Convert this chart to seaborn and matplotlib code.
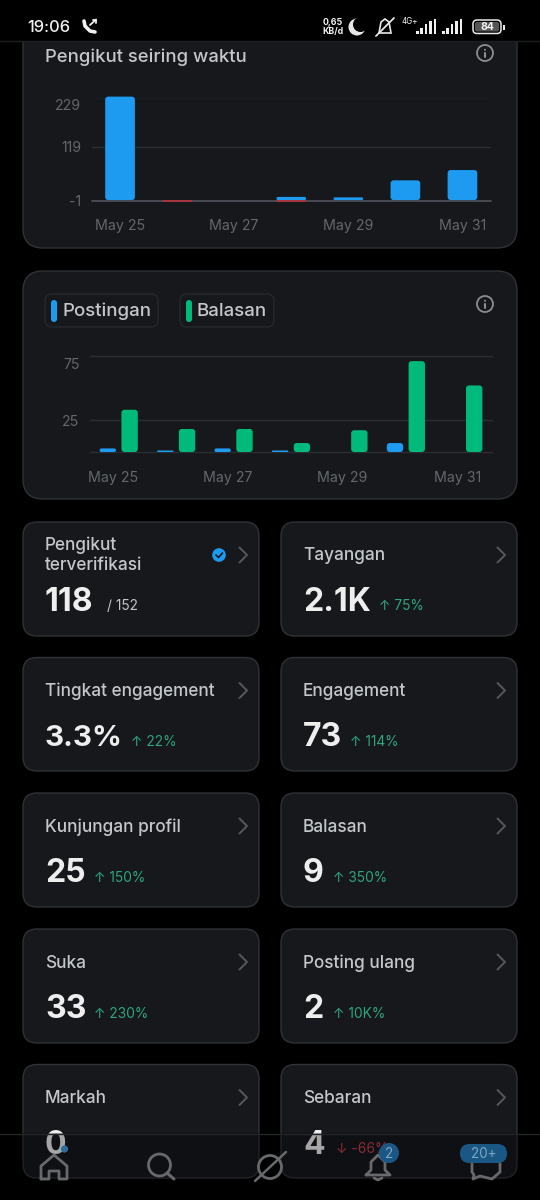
import matplotlib
matplotlib.use("Agg")
import matplotlib.pyplot as plt
from matplotlib.patches import FancyBboxPatch, Rectangle, Circle, Polygon
from matplotlib.transforms import ScaledTranslation
import numpy as np
import pandas as pd
import seaborn as sns

# ---------- data ----------
days = ["May 25", "May 26", "May 27", "May 28", "May 29", "May 30", "May 31"]
gained = [231, 0, 0, 7, 6, 44, 67]
lost = [0, -4, 0, -4, 0, 0, 0]
posts = [2.8, 1.2, 2.8, 1.2, 0, 7, 0]
replies = [33, 18, 18, 7, 17, 71, 52]
tick_days = ["May 25", "May 27", "May 29", "May 31"]
follower_ticks = [-1, 119, 229]
activity_ticks = [25, 75]
metric_labels = ["Pengikut\nterverifikasi", "Tayangan", "Tingkat engagement", "Engagement",
                 "Kunjungan profil", "Balasan", "Suka", "Posting ulang", "Markah", "Sebaran"]
metric_values = ["118", "2.1K", "3.3%", "73", "25", "9", "33", "2", "0", "4"]
metric_deltas = ["/ 152", "↑ 75%", "↑ 22%", "↑ 114%", "↑ 150%", "↑ 350%", "↑ 230%", "↑ 10K%", "", "↓ -66%"]
delta_x = [107, 379, 131, 350, 94, 333, 94, 333, 0, 336]

# ---------- style ----------
sns.set_theme(style="dark")
plt.rcParams["font.family"] = ["Inter", "DejaVu Sans"]
W, H = 540, 1200
BG, CARD, EDGE = "#000000", "#16181c", "#2f3336"
LABEL, DIM, WHITE = "#c4c7ca", "#63676b", "#eeeeef"
BLUE, GREEN, RED = "#1d9bf0", "#00ba7c", "#b0333f"
PX = 0.72  # px -> pt at 100 dpi

fig = plt.figure(figsize=(W / 100, H / 100), dpi=100, facecolor=BG)
ui = fig.add_axes([0, 0, 1, 1], zorder=0)
ui.set_xlim(0, W); ui.set_ylim(H, 0); ui.axis("off")


def txt(x, y, s, px, color=LABEL, weight="normal", ha="left", va="center", ax=ui, **k):
    return ax.text(x, y, s, fontsize=px * PX, color=color, fontweight=weight, ha=ha, va=va, **k)


def rbox(x0, y0, x1, y1, r, fc, ec="none", lw=1, z=1, alpha=None):
    p = FancyBboxPatch((x0, y0), x1 - x0, y1 - y0, boxstyle=f"round,pad=0,rounding_size={r}",
                       fc=fc, ec=ec, lw=lw, zorder=z, alpha=alpha)
    ui.add_patch(p)
    return p


def chevron(x, y, color="#55595d"):
    ui.plot([x - 4, x + 3.5, x - 4], [y - 7.5, y, y + 7.5], color=color, lw=1.4, zorder=4)


def info(x, y):
    ui.add_patch(Circle((x, y), 8, fc="none", ec="#8a8d91", lw=1.3, zorder=4))
    ui.plot([x, x], [y - 0.5, y + 4], color="#8a8d91", lw=1.5, zorder=4)
    ui.add_patch(Circle((x, y - 3.2), 1, fc="#8a8d91", ec="none", zorder=4))


def axes_px(x0, y0, x1, y1):
    ax = fig.add_axes([x0 / W, 1 - y1 / H, (x1 - x0) / W, (y1 - y0) / H], zorder=2)
    ax.patch.set_alpha(0)
    return ax


def round_bars(ax, r_px=3):
    """Replace seaborn's rectangles by the same bars with rounded corners."""
    bb = ax.get_window_extent()
    x0, x1 = ax.get_xlim(); y0, y1 = ax.get_ylim()
    ux = (x1 - x0) / bb.width * 100 / fig.dpi
    uy = (y1 - y0) / bb.height * 100 / fig.dpi
    for b in list(ax.patches):
        x, y, w, h = b.get_x(), b.get_y(), b.get_width(), b.get_height()
        c = b.get_facecolor()
        b.remove()
        if h == 0 or np.isnan(h):
            continue
        yb, ha = min(y, y + h), abs(h)
        rx = min(r_px * ux, ha / uy * ux / 2)
        ax.add_patch(FancyBboxPatch((x, yb), w, ha, boxstyle=f"round,pad=0,rounding_size={rx}",
                                    mutation_aspect=uy / ux, fc=c, ec="none", clip_on=False, zorder=3))


def style_chart(ax):
    sns.despine(ax=ax, left=True, bottom=True, top=True, right=True)
    ax.set_xlabel(""); ax.set_ylabel("")
    ax.grid(False)
    ax.tick_params(axis="both", length=0, labelsize=14.2 * PX, colors=DIM)
    ax.tick_params(axis="y", pad=7.5)
    ax.tick_params(axis="x", pad=13.5)


def drop_top_label(ax):
    lab = ax.get_yticklabels()[-1]
    lab.set_va("top")
    lab.set_transform(lab.get_transform() + ScaledTranslation(0, -2 / 100, fig.dpi_scale_trans))


# ---------- cards ----------
rbox(23, -30, 517, 248, 20, CARD, EDGE)
rbox(23, 271, 517, 499, 20, CARD, EDGE)
txt(45, 57, "Pengikut seiring waktu", 18.5, weight="medium")
info(485, 53)
info(485, 304)

# legend chips
rbox(45, 294, 158, 327, 7, CARD, "#25282c")
rbox(180, 294, 274, 327, 7, CARD, "#25282c")
rbox(51, 300, 57, 322, 3, BLUE, z=3)
rbox(186, 300, 192, 322, 3, GREEN, z=3)
txt(63, 311, "Postingan", 18.7, weight="medium")
txt(197, 311, "Balasan", 18.7, weight="medium")

# ---------- follower chart ----------
ax1 = axes_px(91.5, 97.5, 491, 200.5)
df1 = pd.DataFrame({"day": days * 2, "v": gained + lost, "kind": ["gain"] * 7 + ["loss"] * 7})
sns.barplot(df1, x="day", y="v", hue="kind", palette={"gain": BLUE, "loss": RED}, dodge=False,
            width=0.52, legend=False, ax=ax1, order=days, errorbar=None, saturation=1)
ax1.set_xlim(-0.5, 6.5); ax1.set_ylim(-1, 229)
style_chart(ax1)
ax1.set_xticks([days.index(d) for d in tick_days], tick_days)
ax1.set_yticks(follower_ticks, [str(t) for t in follower_ticks])
drop_top_label(ax1)
round_bars(ax1)
ax1.axhline(229, color="#2a2d31", lw=1, zorder=1)
ax1.axhline(119, color="#2a2d31", lw=1, zorder=1)
ax1.axhline(-1, color="#50545a", lw=1.2, zorder=2, clip_on=False)

# ---------- activity chart ----------
ax2 = axes_px(90, 356, 492, 452)
df2 = pd.DataFrame({"day": days * 2, "v": posts + replies,
                    "kind": ["Postingan"] * 7 + ["Balasan"] * 7})
sns.barplot(df2, x="day", y="v", hue="kind", palette={"Postingan": BLUE, "Balasan": GREEN},
            width=0.76, gap=0.25, legend=False, ax=ax2, order=days, errorbar=None, saturation=1)
ax2.set_xlim(-0.5, 6.5); ax2.set_ylim(0, 75)
style_chart(ax2)
ax2.set_xticks([days.index(d) - 0.1 for d in tick_days], tick_days)
ax2.set_yticks(activity_ticks, [str(t) for t in activity_ticks])
drop_top_label(ax2)
round_bars(ax2)
for t in activity_ticks + [0]:
    ax2.axhline(t, color="#2a2d31", lw=1, zorder=1, clip_on=False)

# ---------- metric tiles ----------
cols = [(23, 259), (281, 517)]
rows = [(522, 636), (657.5, 771), (793, 907), (929, 1043), (1064.5, 1178)]
for i, (lab, val, dl) in enumerate(zip(metric_labels, metric_values, metric_deltas)):
    (x0, x1), (y0, y1) = cols[i % 2], rows[i // 2]
    rbox(x0, y0, x1, y1, 14, CARD, EDGE)
    tx = x0 + 22
    if "\n" in lab:
        a, b = lab.split("\n")
        txt(tx, 545, a, 17.2, weight="medium")
        txt(tx, 566, b, 17.2, weight="medium")
    else:
        txt(tx, y0 + 34, lab, 17.2, weight="medium")
    chevron(x1 - 15.5, y0 + 33)
    txt(tx, y0 + 80.5, val, 29.5 if "%" in val else 32, color=WHITE, weight="bold", zorder=3)
    if dl:
        col = "#2fa57c" if dl[0] == "↑" else ("#c2404c" if dl[0] == "↓" else LABEL)
        txt(delta_x[i], y0 + 84.5, dl, 13.8, color=col, zorder=3)

# verified badge
ui.add_patch(Circle((219, 555), 6.8, fc=BLUE, ec="none", zorder=4))
ui.plot([216, 218.5, 222.5], [555, 557.5, 553], color="#16181c", lw=1.2, zorder=5)

# ---------- status bar ----------
ui.add_patch(Rectangle((0, 0), W, 40.5, fc=BG, ec="none", zorder=6))
ui.plot([0, W], [41, 41], color="#1d1f22", lw=1, zorder=6)
txt(27, 27, "19:06", 16.5, color="#f0f0f0", weight="medium", zorder=7)
# call icon
ui.plot([84, 85, 90, 95], [21, 26, 31, 32], color="#f0f0f0", lw=2.6, zorder=7, solid_capstyle="round")
ui.plot([90, 96], [25, 19.5], color="#f0f0f0", lw=1.3, zorder=7)
ui.plot([92.5, 96, 96], [19.5, 19.5, 23], color="#f0f0f0", lw=1.3, zorder=7)
txt(333, 22.5, "0,65", 8.8, color="#f0f0f0", weight="bold", ha="center", zorder=7)
txt(333, 31.5, "KB/d", 8.8, color="#f0f0f0", weight="bold", ha="center", zorder=7)
# moon
ui.add_patch(Circle((357, 27), 8.5, fc="#e8e8e8", ec="none", zorder=7))
ui.add_patch(Circle((360.5, 24.5), 7.5, fc=BG, ec="none", zorder=7))
# mute bell
ui.add_patch(Polygon([[379, 33], [381, 22], [385, 19], [389, 22], [391, 33]], closed=True,
                     fc="none", ec="#e8e8e8", lw=1.2, zorder=7))
ui.plot([376, 394], [36, 18], color="#e8e8e8", lw=1.3, zorder=7)
txt(410, 22, "4G+", 8, color="#f0f0f0", ha="center", zorder=7)
for sx0 in (416, 442):
    for j, hh in enumerate([3, 6, 10, 13, 15]):
        ui.add_patch(Rectangle((sx0 + j * 4.4, 33.5 - hh), 2.6, hh, fc="#f0f0f0", ec="none", zorder=7))
rbox(473, 20, 501, 33.5, 4, BG, "#e8e8e8", lw=1.1, z=7)
rbox(475, 22, 499, 31.5, 2, "#555555", z=7)
txt(487, 27, "84", 10.5, color="#f0f0f0", weight="bold", ha="center", zorder=8)
ui.add_patch(Rectangle((503, 24.5), 1.6, 5, fc="#e8e8e8", ec="none", zorder=7))

# ---------- bottom nav ----------
ui.add_patch(Rectangle((0, 1133), W, 67, fc=BG, ec="none", alpha=0.3, zorder=6))
ui.plot([0, W], [1133.5, 1133.5], color="#24272a", lw=1, zorder=7)
G = "#67696c"
ui.add_patch(Circle((64.5, 1149), 3.6, fc="#2b6d9c", ec="none", zorder=7))
ui.plot([41, 41, 54, 67, 67, 59, 59, 49, 49, 41], [1179, 1166, 1155, 1166, 1179, 1179, 1171, 1171, 1179, 1179],
        color=G, lw=2, zorder=8, solid_joinstyle="round")
ui.add_patch(Circle((159.5, 1165), 11, fc="none", ec=G, lw=2, zorder=8))
ui.plot([167, 174], [1173, 1179], color=G, lw=2.2, zorder=8)
ui.add_patch(Circle((270, 1167), 11.5, fc="none", ec=G, lw=2, zorder=8))
ui.plot([255, 286], [1181, 1152], color=G, lw=1.8, zorder=8)
ui.plot([366, 371, 371, 378, 385, 385, 390, 366], [1175, 1170, 1162, 1155, 1162, 1170, 1175, 1175],
        color=G, lw=2, zorder=8, solid_joinstyle="round")
ui.plot([374, 378, 382], [1178, 1180, 1178], color=G, lw=2, zorder=8)
ui.add_patch(Circle((389, 1153), 10, fc="#1a5784", ec="none", zorder=9))
txt(389, 1154, "2", 13.5, color="#7da6c2", ha="center", zorder=10)
ui.plot([472, 472, 474, 473, 480, 492, 500, 500], [1163, 1172, 1175, 1179, 1176, 1179, 1172, 1163],
        color=G, lw=2, zorder=8, solid_joinstyle="round")
rbox(460, 1144, 507, 1163, 9.5, "#1a5784", z=9)
txt(483.5, 1153.5, "20+", 13.5, color="#7da6c2", ha="center", zorder=10)

fig.savefig("out.png", dpi=100, facecolor=BG)
